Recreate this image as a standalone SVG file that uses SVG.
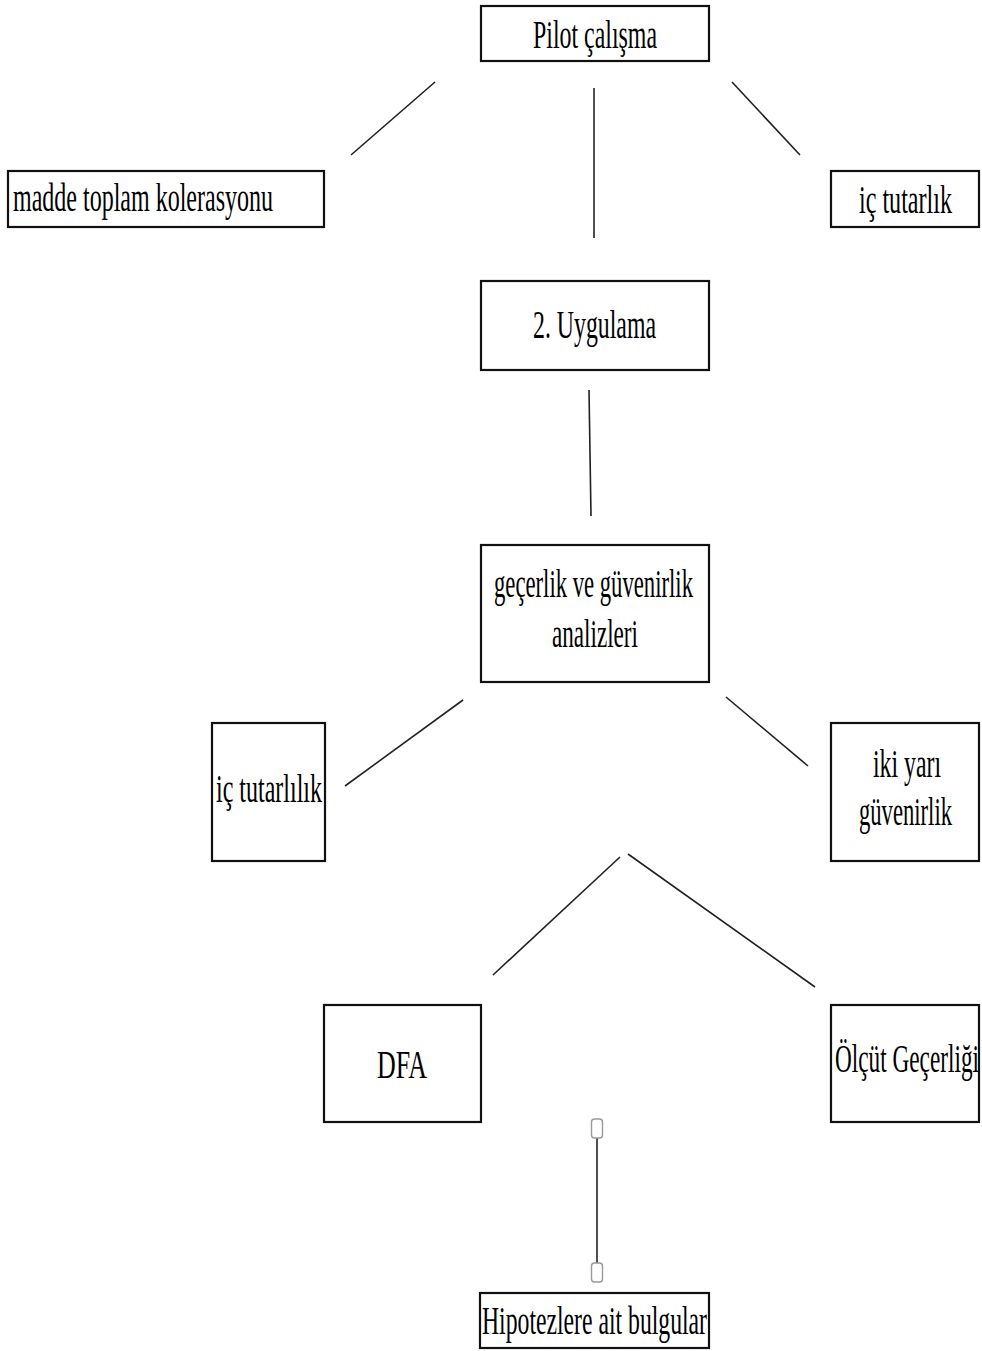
<svg xmlns="http://www.w3.org/2000/svg" width="982" height="1351" viewBox="0 0 982 1351">
<style>
.box{fill:#fff;stroke:#111;stroke-width:2.2}
.t{font-family:'Liberation Serif','DejaVu Serif',serif;font-size:40px;fill:#000}
.ln{stroke:#222;stroke-width:1.6;fill:none}
.h{fill:#fff;stroke:#999;stroke-width:1.4}
</style>
<rect width="982" height="1351" fill="#fff"/>
<g id="connectors">
<line class="ln" x1="435" y1="82" x2="351" y2="155"/>
<line class="ln" x1="594" y1="88" x2="594" y2="238"/>
<line class="ln" x1="732" y1="82" x2="800" y2="155"/>
<line class="ln" x1="589" y1="390" x2="591" y2="516"/>
<line class="ln" x1="463" y1="700" x2="345" y2="786"/>
<line class="ln" x1="726" y1="697" x2="808" y2="766"/>
<line class="ln" x1="620" y1="857" x2="493" y2="975"/>
<line class="ln" x1="628" y1="854" x2="815" y2="987"/>
<line class="ln" x1="597" y1="1138" x2="597" y2="1263"/>
<rect class="h" x="591.5" y="1119" width="11" height="19" rx="3"/>
<rect class="h" x="591.5" y="1263" width="11" height="19" rx="3"/>
</g>
<g id="pilot">
<rect class="box" x="481" y="6" width="228" height="55"/>
<text class="t" x="533" y="48" textLength="124" lengthAdjust="spacingAndGlyphs">Pilot çalışma</text>
</g>
<g id="madde">
<rect class="box" x="8" y="171" width="316" height="56"/>
<text class="t" x="13" y="211" textLength="260" lengthAdjust="spacingAndGlyphs">madde toplam kolerasyonu</text>
</g>
<g id="ic1">
<rect class="box" x="831" y="171" width="148" height="56"/>
<text class="t" x="859" y="213" textLength="93" lengthAdjust="spacingAndGlyphs">iç tutarlık</text>
</g>
<g id="uygulama">
<rect class="box" x="481" y="281" width="228" height="89"/>
<text class="t" x="533" y="338" textLength="123" lengthAdjust="spacingAndGlyphs">2. Uygulama</text>
</g>
<g id="gecerlik">
<rect class="box" x="481" y="545" width="228" height="137"/>
<text class="t" x="494" y="597" textLength="199" lengthAdjust="spacingAndGlyphs">geçerlik ve güvenirlik</text>
<text class="t" x="552" y="647" textLength="86" lengthAdjust="spacingAndGlyphs">analizleri</text>
</g>
<g id="ic2">
<rect class="box" x="212" y="723" width="113" height="138"/>
<text class="t" x="216" y="802" textLength="106" lengthAdjust="spacingAndGlyphs">iç tutarlılık</text>
</g>
<g id="ikiyari">
<rect class="box" x="831" y="723" width="148" height="138"/>
<text class="t" x="873" y="777" textLength="68" lengthAdjust="spacingAndGlyphs">iki yarı</text>
<text class="t" x="859" y="825" textLength="93" lengthAdjust="spacingAndGlyphs">güvenirlik</text>
</g>
<g id="dfa">
<rect class="box" x="324" y="1005" width="157" height="117"/>
<text class="t" x="377" y="1078" textLength="50" lengthAdjust="spacingAndGlyphs">DFA</text>
</g>
<g id="olcut">
<rect class="box" x="831" y="1005" width="148" height="117"/>
<text class="t" x="835" y="1072" textLength="144" lengthAdjust="spacingAndGlyphs">Ölçüt Geçerliği</text>
</g>
<g id="hipotez">
<rect class="box" x="480" y="1293" width="229" height="55"/>
<text class="t" x="482" y="1334" textLength="225" lengthAdjust="spacingAndGlyphs">Hipotezlere ait bulgular</text>
</g>
</svg>
